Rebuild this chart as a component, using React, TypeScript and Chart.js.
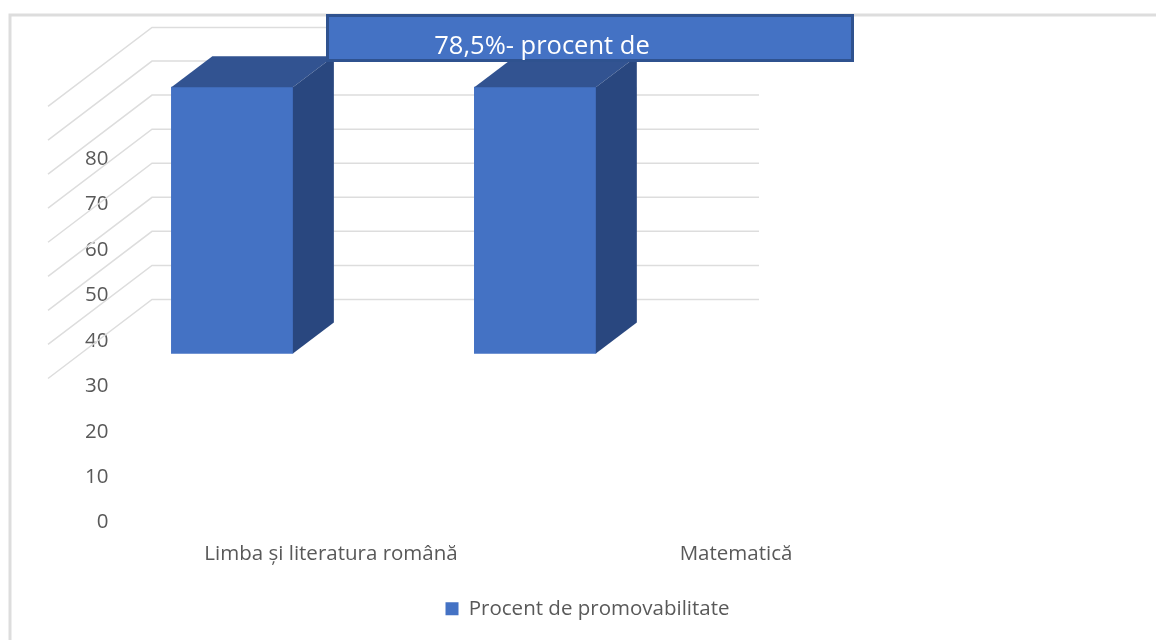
import React, { useEffect, useRef } from "react";
import { Chart, registerables } from "chart.js";

Chart.register(...registerables);

const categories = ["Limba și literatura română", "Matematică"];
const barPositions = [1, 2];
const barBottoms = [37.2, 37.2];
const barTops = [95.85, 95.85];
const yTickLabels = [0, 10, 20, 30, 40, 50, 60, 70, 80];
const wallGridValues = [49.1, 56.6, 64.1, 71.6, 79.1, 86.6, 94.1, 101.6, 109.0];
const seriesName = "Procent de promovabilitate";
const bannerText = "78,5%- procent de";

const FONT = "'Open Sans', sans-serif";
const TEXT = "#595959";
const GRID = "#DDDDDD";
const DEPTH_X = 41;
const DEPTH_Y = 31;

const scene = {
  id: "scene3d",
  afterLayout(chart: any) {
    chart.legend.left += 79;
    chart.legend.right += 79;
  },
  beforeDatasetsDraw(chart: any) {
    const { ctx, scales } = chart;
    ctx.save();
    ctx.strokeStyle = GRID;
    ctx.lineWidth = 3;
    ctx.beginPath();
    ctx.moveTo(10, 640);
    ctx.lineTo(10, 15);
    ctx.lineTo(1156, 15);
    ctx.stroke();
    ctx.lineWidth = 1.5;
    wallGridValues.forEach((v) => {
      const y = scales.y.getPixelForValue(v);
      ctx.beginPath();
      ctx.moveTo(48, y + 79);
      ctx.lineTo(152, y);
      ctx.lineTo(759, y);
      ctx.stroke();
    });
    ctx.restore();
  },
  afterDatasetsDraw(chart: any) {
    const { ctx } = chart;
    ctx.save();
    chart.getDatasetMeta(0).data.forEach((bar: any) => {
      const left = bar.x - bar.width / 2;
      const right = bar.x + bar.width / 2;
      ctx.fillStyle = "#325391";
      ctx.beginPath();
      ctx.moveTo(left, bar.y);
      ctx.lineTo(left + DEPTH_X, bar.y - DEPTH_Y);
      ctx.lineTo(right + DEPTH_X, bar.y - DEPTH_Y);
      ctx.lineTo(right, bar.y);
      ctx.closePath();
      ctx.fill();
      ctx.fillStyle = "#29477F";
      ctx.beginPath();
      ctx.moveTo(right, bar.y);
      ctx.lineTo(right + DEPTH_X, bar.y - DEPTH_Y);
      ctx.lineTo(right + DEPTH_X, bar.base - DEPTH_Y);
      ctx.lineTo(right, bar.base);
      ctx.closePath();
      ctx.fill();
    });
    ctx.fillStyle = "#4472C4";
    ctx.strokeStyle = "#2F528F";
    ctx.lineWidth = 3;
    ctx.fillRect(327, 15, 526, 45);
    ctx.strokeRect(327.5, 15.5, 525, 45);
    ctx.fillStyle = "#FFFFFF";
    ctx.font = `25.5px ${FONT}`;
    ctx.textAlign = "center";
    ctx.textBaseline = "middle";
    ctx.fillText(bannerText, 542, 47);
    ctx.restore();
  },
};

export default function App() {
  const ref = useRef<HTMLCanvasElement>(null);
  useEffect(() => {
    const chart = new Chart(ref.current!, {
      type: "bar",
      data: {
        labels: categories,
        datasets: [
          {
            label: seriesName,
            xAxisID: "xBars",
            data: barPositions.map((x, i) => ({ x, y: [barBottoms[i], barTops[i]] })),
            backgroundColor: "#4472C4",
            borderWidth: 0,
            barThickness: 121.5,
          },
        ],
      },
      options: {
        animation: false,
        responsive: false,
        layout: { padding: { left: 78.5, right: 217.5, top: 22.9, bottom: 11 } },
        plugins: {
          tooltip: { enabled: false },
          legend: {
            position: "bottom",
            labels: { font: { family: FONT, size: 20.5 }, color: TEXT, boxWidth: 13, boxHeight: 13, padding: 10 },
          },
        },
        scales: {
          x: {
            type: "category",
            labels: categories,
            grid: { display: false },
            border: { display: false },
            ticks: { color: TEXT, font: { family: FONT, size: 20.5 }, padding: 11, maxRotation: 0 },
            afterFit(s: any) { s.height = 66; s.paddingLeft = 0; s.paddingRight = 0; },
          },
          xBars: {
            type: "linear",
            display: false,
            offset: false,
            min: 0.658,
            max: 3.3315,
          },
          y: {
            min: 0,
            max: 110,
            grid: { display: false },
            border: { display: false },
            ticks: { stepSize: 10, color: TEXT, font: { family: FONT, size: 20.5 }, padding: 12 },
            afterBuildTicks(s: any) { s.ticks = yTickLabels.map((value) => ({ value })); },
            afterFit(s: any) { s.width = 50; s.paddingTop = 0; s.paddingBottom = 0; },
          },
        },
      } as any,
      plugins: [scene],
    });
    return () => chart.destroy();
  }, []);
  return (
    <div style={{ position: "fixed", left: 0, top: 0, width: 1156, height: 640, background: "#fff" }}>
      <canvas ref={ref} width={1156} height={640} style={{ display: "block" }} />
    </div>
  );
}
